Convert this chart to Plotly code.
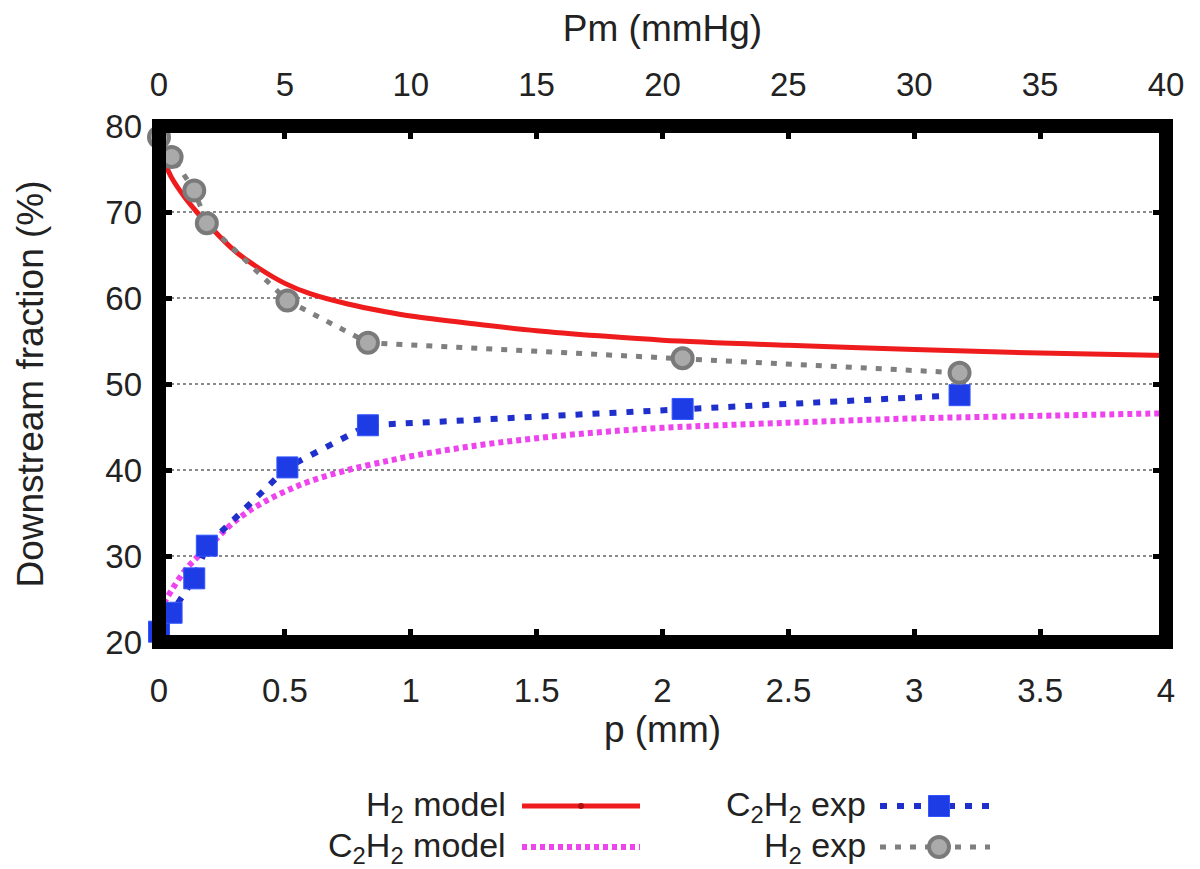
import plotly.graph_objects as go

# ---------------- data ----------------
p_model = [0, 0.02, 0.05, 0.1, 0.15, 0.2, 0.3, 0.4, 0.5, 0.6, 0.75, 0.9, 1.0,
           1.25, 1.5, 1.75, 2.0, 2.5, 3.0, 3.5, 4.0]
h2_model = [77.0, 75.9, 74.0, 71.8, 70.0, 68.4, 65.5, 63.4, 61.7, 60.5, 59.3,
            58.4, 57.9, 57.0, 56.2, 55.6, 55.1, 54.5, 54.0, 53.6, 53.3]
c2h2_model = [22.5, 24.5, 26.0, 28.2, 29.8, 31.2, 34.0, 36.0, 37.5, 38.7, 40.0,
              41.0, 41.6, 42.8, 43.7, 44.4, 44.9, 45.5, 46.0, 46.3, 46.6]

p_exp = [0, 0.05, 0.14, 0.19, 0.51, 0.83, 2.08, 3.18]
h2_exp = [78.7, 76.4, 72.5, 68.7, 59.7, 54.8, 53.0, 51.3]
c2h2_exp = [21.2, 23.4, 27.4, 31.2, 40.3, 45.2, 47.1, 48.7]

x_ticks_top = [0, 5, 10, 15, 20, 25, 30, 35, 40]
y_ticks = [20, 30, 40, 50, 60, 70, 80]

legend_labels = ["H<sub>2</sub> model", "C<sub>2</sub>H<sub>2</sub> model",
                 "C<sub>2</sub>H<sub>2</sub> exp", "H<sub>2</sub> exp"]

# ---------------- styles ----------------
RED = "#ee1c1c"
MAG = "#ee44ee"
BLUE = "#1e3ce6"
BLUE_LINE = "#1f2fcc"
GREY = "#7f7f7f"
FONT = "Liberation Sans, Arial, sans-serif"
TXT = "#222"

OFF = 8                      # default page (body) margin around the figure
W, H = 1200 - OFF, 869 - OFF
ML, MR, MT, MB = 151, 34, 118, 10
plot_bottom = 634            # figure px of the lower plot edge
paper_h = H - MT - MB
main_y0 = (H - MB - plot_bottom) / paper_h
leg_top = 0.2
leg_top_px = (H - MB) - leg_top * paper_h

fig = go.Figure()

# main traces
fig.add_trace(go.Scatter(x=p_model, y=h2_model, mode="lines", line=dict(color=RED, width=5, shape="spline"),
                         hoverinfo="skip"))
fig.add_trace(go.Scatter(x=p_model, y=c2h2_model, mode="lines",
                         line=dict(color=MAG, width=6, dash="5px,4px", shape="spline"), hoverinfo="skip"))
fig.add_trace(go.Scatter(x=p_exp, y=c2h2_exp, mode="lines+markers",
                         line=dict(color=BLUE_LINE, width=6, dash="7px,10px"),
                         marker=dict(symbol="square", size=21, color=BLUE, line=dict(color="#3355ff", width=1)),
                         cliponaxis=False, hoverinfo="skip"))
fig.add_trace(go.Scatter(x=p_exp, y=h2_exp, mode="lines+markers",
                         line=dict(color=GREY, width=5, dash="6px,9px"),
                         marker=dict(symbol="circle", size=20, color="#aaaaaa", line=dict(color="#7a7a7a", width=4)),
                         cliponaxis=False, hoverinfo="skip"))
# invisible trace for the top axis
fig.add_trace(go.Scatter(x=[x_ticks_top[0], x_ticks_top[-1]], y=[50, 50], xaxis="x2", yaxis="y",
                         mode="lines", line=dict(width=0), opacity=0, hoverinfo="skip"))

# legend keys on a helper axis whose units are page pixels
col1_x0, col1_x1, col2_x0, col2_x1 = 522, 640, 880, 990
row1_y, row2_y = 806, 847
text_dy = 0
mid1 = (col1_x0 + col1_x1) / 2
mid2 = (col2_x0 + col2_x1) / 2 + 4
fig.add_trace(go.Scatter(x=[col1_x0, col1_x1], y=[row1_y, row1_y], xaxis="x3", yaxis="y3", mode="lines",
                         line=dict(color=RED, width=5), hoverinfo="skip"))
fig.add_trace(go.Scatter(x=[mid1], y=[row1_y], xaxis="x3", yaxis="y3", mode="markers",
                         marker=dict(color="#b01010", size=6), hoverinfo="skip"))
fig.add_trace(go.Scatter(x=[col1_x0, col1_x1], y=[row2_y, row2_y], xaxis="x3", yaxis="y3", mode="lines",
                         line=dict(color=MAG, width=6, dash="5px,4px"), hoverinfo="skip"))
fig.add_trace(go.Scatter(x=[col2_x0, col2_x1], y=[row1_y, row1_y], xaxis="x3", yaxis="y3", mode="lines",
                         line=dict(color=BLUE_LINE, width=6, dash="7px,10px"), hoverinfo="skip"))
fig.add_trace(go.Scatter(x=[mid2], y=[row1_y], xaxis="x3", yaxis="y3", mode="markers",
                         marker=dict(symbol="square", size=21, color=BLUE, line=dict(color="#3355ff", width=1)),
                         hoverinfo="skip"))
fig.add_trace(go.Scatter(x=[col2_x0, col2_x1], y=[row2_y, row2_y], xaxis="x3", yaxis="y3", mode="lines",
                         line=dict(color=GREY, width=5, dash="6px,9px"), hoverinfo="skip"))
fig.add_trace(go.Scatter(x=[mid2], y=[row2_y], xaxis="x3", yaxis="y3", mode="markers",
                         marker=dict(symbol="circle", size=20, color="#aaaaaa", line=dict(color="#7a7a7a", width=4)),
                         hoverinfo="skip"))

text_pos = [(508, row1_y), (508, row2_y), (868, row1_y), (868, row2_y)]
for lab, (tx, ty) in zip(legend_labels, text_pos):
    fig.add_annotation(x=tx, y=ty + text_dy, xref="x3", yref="y3", text=lab, showarrow=False,
                       xanchor="right", yanchor="middle", font=dict(size=34, color=TXT, family=FONT))

# thick frame centred on the plot-area border
fig.add_shape(type="rect", xref="paper", yref="paper", x0=0, x1=1, y0=main_y0, y1=1,
              line=dict(color="black", width=14), layer="above")

tick_common = dict(ticks="inside", ticklen=13, tickwidth=5, tickcolor="black", zeroline=False,
                   showline=False, automargin=False, tickfont=dict(size=33, color=TXT, family=FONT))

fig.update_layout(
    width=W, height=H,
    margin=dict(l=ML, r=MR, t=MT, b=MB),
    paper_bgcolor="white", plot_bgcolor="white",
    showlegend=False,
    font=dict(family=FONT, color=TXT),
    xaxis=dict(range=[0, 4], dtick=0.5, domain=[0, 1], anchor="y", mirror=False, showgrid=False,
               ticklabelstandoff=26,
               title=dict(text="p (mm)", font=dict(size=37, color=TXT), standoff=6),
               **tick_common),
    xaxis2=dict(range=[x_ticks_top[0], x_ticks_top[-1]], tickvals=x_ticks_top, overlaying="x", side="top",
                anchor="y", showgrid=False, ticklabelstandoff=22,
                title=dict(text="Pm (mmHg)", font=dict(size=37, color=TXT), standoff=18),
                **tick_common),
    yaxis=dict(range=[y_ticks[0], y_ticks[-1]], tickvals=y_ticks, domain=[main_y0, 1], anchor="x",
               mirror="ticks", showgrid=True, gridcolor="#8a8a8a", griddash="dot", gridwidth=1.5,
               ticklabelstandoff=16,
               title=dict(text="Downstream fraction (%)", font=dict(size=37, color=TXT), standoff=50),
               **tick_common),
    xaxis3=dict(range=[ML + OFF, W - MR + OFF], domain=[0, 1], anchor="y3", visible=False,
                fixedrange=True, automargin=False),
    yaxis3=dict(range=[H - MB + OFF, leg_top_px + OFF], domain=[0, leg_top], anchor="x3", visible=False,
                fixedrange=True, automargin=False),
)

fig.write_html("out.html")
